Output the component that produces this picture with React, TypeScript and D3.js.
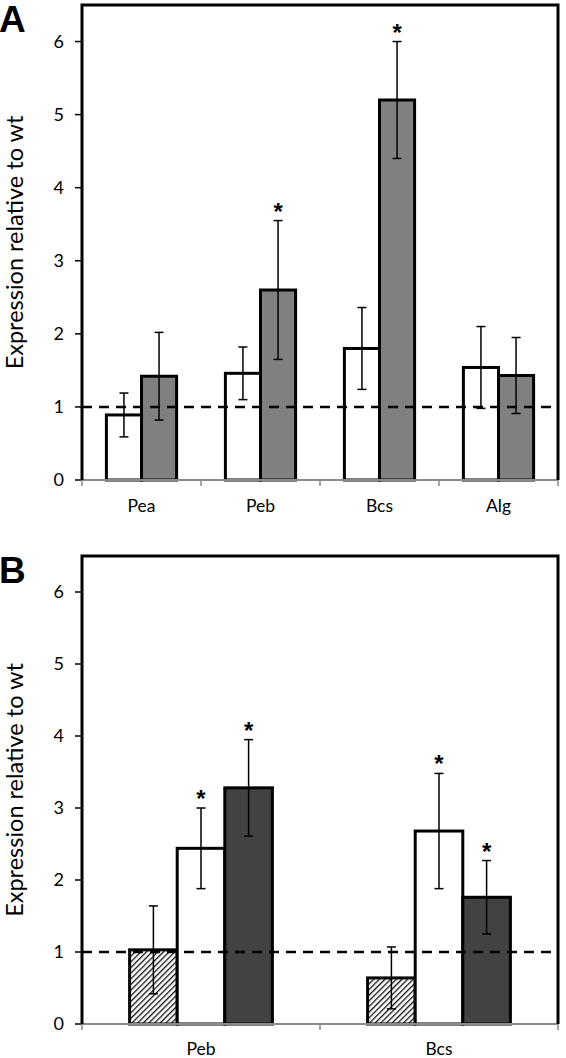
import React from "react";
import * as d3 from "d3";

const W = 566;
const H = 1058;

// Panel A
const catsA = ["Pea", "Peb", "Bcs", "Alg"];
const seriesA = ["white", "grey"];
const whiteA = [0.89, 1.46, 1.8, 1.54];
const whiteErrA = [0.3, 0.36, 0.56, 0.56];
const greyA = [1.42, 2.6, 5.2, 1.43];
const greyErrA = [0.6, 0.95, 0.8, 0.52];
const starsA = [
  { cat: "Peb", s: "grey" },
  { cat: "Bcs", s: "grey" },
];

// Panel B
const catsB = ["Peb", "Bcs"];
const seriesB = ["hatch", "white", "dark"];
const hatchB = [1.03, 0.64];
const hatchErrB = [0.61, 0.43];
const whiteB = [2.44, 2.68];
const whiteErrB = [0.56, 0.8];
const darkB = [3.28, 1.76];
const darkErrB = [0.67, 0.51];
const starsB = [
  { cat: "Peb", s: "white" },
  { cat: "Peb", s: "dark" },
  { cat: "Bcs", s: "white" },
  { cat: "Bcs", s: "dark" },
];

const yTicks = [0, 1, 2, 3, 4, 5, 6];
const yMax = 6.5;
const refLine = 1;

const fills: Record<string, string> = {
  white: "#ffffff",
  grey: "#808080",
  dark: "#424242",
  hatch: "url(#hatch)",
};

type Row = { cat: string; s: string; v: number; e: number };

function Panel({
  top,
  bottom,
  letter,
  cats,
  series,
  rows,
  stars,
  groupRatio,
  labelY,
}: {
  top: number;
  bottom: number;
  letter: string;
  cats: string[];
  series: string[];
  rows: Row[];
  stars: { cat: string; s: string }[];
  groupRatio: number;
  labelY: number;
}) {
  const left = 82;
  const right = 558;
  const y = d3.scaleLinear().domain([0, yMax]).range([bottom, top]);
  const x0 = d3.scaleBand().domain(cats).range([left, right]).padding(0);
  const bw = x0.bandwidth();
  const gw = bw * groupRatio;
  const x1 = d3
    .scaleBand()
    .domain(series)
    .range([(bw - gw) / 2, (bw + gw) / 2])
    .padding(0);
  const font = "Lato, 'Open Sans', sans-serif";
  const cap = 9;
  return (
    <g>
      <text
        x={-1}
        y={top + 27}
        fontFamily="'Liberation Sans', Arial, sans-serif"
        fontWeight="bold"
        fontSize={37}
        fill="#000"
      >
        {letter}
      </text>
      {/* y label */}
      <text
        transform={`translate(23,${(top + bottom) / 2}) rotate(-90)`}
        textAnchor="middle"
        fontFamily={font}
        fontSize={23.5}
        fill="#000"
      >
        Expression relative to wt
      </text>
      {/* y ticks */}
      {yTicks.map((t) => (
        <g key={t}>
          <line x1={left - 7} x2={left} y1={y(t)} y2={y(t)} stroke="#000" strokeWidth={1.5} />
          <text
            x={left - 18}
            y={y(t)}
            dy="0.36em"
            textAnchor="end"
            fontFamily={font}
            fontSize={18}
            fill="#000"
          >
            {t}
          </text>
        </g>
      ))}
      {/* bars */}
      {rows.map((r) => (
        <rect
          key={r.cat + r.s}
          x={(x0(r.cat) as number) + (x1(r.s) as number)}
          y={y(r.v)}
          width={x1.bandwidth()}
          height={y(0) - y(r.v)}
          fill={fills[r.s]}
          stroke="#000"
          strokeWidth={3}
        />
      ))}
      {/* error bars */}
      {rows.map((r) => {
        const cx = (x0(r.cat) as number) + (x1(r.s) as number) + x1.bandwidth() / 2;
        return (
          <g key={"e" + r.cat + r.s} stroke="#000" strokeWidth={1.5}>
            <line x1={cx} x2={cx} y1={y(r.v + r.e)} y2={y(r.v - r.e)} />
            <line x1={cx - cap / 2} x2={cx + cap / 2} y1={y(r.v + r.e)} y2={y(r.v + r.e)} />
            <line x1={cx - cap / 2} x2={cx + cap / 2} y1={y(r.v - r.e)} y2={y(r.v - r.e)} />
          </g>
        );
      })}
      {/* stars */}
      {stars.map((st) => {
        const r = rows.find((d) => d.cat === st.cat && d.s === st.s)!;
        const cx = (x0(r.cat) as number) + (x1(r.s) as number) + x1.bandwidth() / 2;
        return (
          <text
            key={"s" + st.cat + st.s}
            x={cx}
            y={y(r.v + r.e) - 1}
            textAnchor="middle"
            fontFamily="'Liberation Sans', Arial, sans-serif"
            fontWeight="bold"
            fontSize={24}
            fill="#000"
          >
            *
          </text>
        );
      })}
      {/* reference dashed line */}
      <line
        x1={left}
        x2={right}
        y1={y(refLine)}
        y2={y(refLine)}
        stroke="#000"
        strokeWidth={2.5}
        strokeDasharray="10,7"
      />
      {/* x axis */}
      <line x1={left} x2={right} y1={y(0)} y2={y(0)} stroke="#8a8a8a" strokeWidth={2} />
      {[...cats.map((c) => x0(c) as number), right].map((bx, i) => (
        <line key={"xt" + i} x1={bx} x2={bx} y1={y(0)} y2={y(0) + 6} stroke="#8a8a8a" strokeWidth={1.5} />
      ))}
      {cats.map((c) => (
        <text
          key={"xl" + c}
          x={(x0(c) as number) + bw / 2}
          y={labelY}
          textAnchor="middle"
          fontFamily={font}
          fontSize={17.5}
          fill="#000"
        >
          {c}
        </text>
      ))}
      {/* frame */}
      <path
        d={`M${left},${y(0)} L${left},${top} L${right},${top} L${right},${y(0)}`}
        fill="none"
        stroke="#000"
        strokeWidth={3}
      />
    </g>
  );
}

export default function App() {
  const rowsA: Row[] = [];
  catsA.forEach((c, i) => {
    rowsA.push({ cat: c, s: "white", v: whiteA[i], e: whiteErrA[i] });
    rowsA.push({ cat: c, s: "grey", v: greyA[i], e: greyErrA[i] });
  });
  const rowsB: Row[] = [];
  catsB.forEach((c, i) => {
    rowsB.push({ cat: c, s: "hatch", v: hatchB[i], e: hatchErrB[i] });
    rowsB.push({ cat: c, s: "white", v: whiteB[i], e: whiteErrB[i] });
    rowsB.push({ cat: c, s: "dark", v: darkB[i], e: darkErrB[i] });
  });
  return (
    <svg
      width={W}
      height={H}
      style={{ position: "absolute", left: 0, top: 0, background: "#fff" }}
    >
      <defs>
        <pattern
          id="hatch"
          patternUnits="userSpaceOnUse"
          width={4}
          height={4}
          patternTransform="rotate(45)"
        >
          <rect width={4} height={4} fill="#fff" />
          <line x1={0} y1={0} x2={0} y2={4} stroke="#111" strokeWidth={2.6} />
        </pattern>
      </defs>
      <rect width={W} height={H} fill="#fff" />
      <Panel
        top={5}
        bottom={480}
        letter="A"
        cats={catsA}
        series={seriesA}
        rows={rowsA}
        stars={starsA}
        groupRatio={0.59}
        labelY={512}
      />
      <Panel
        top={556}
        bottom={1024}
        letter="B"
        cats={catsB}
        series={seriesB}
        rows={rowsB}
        stars={starsB}
        groupRatio={0.6}
        labelY={1055}
      />
    </svg>
  );
}
